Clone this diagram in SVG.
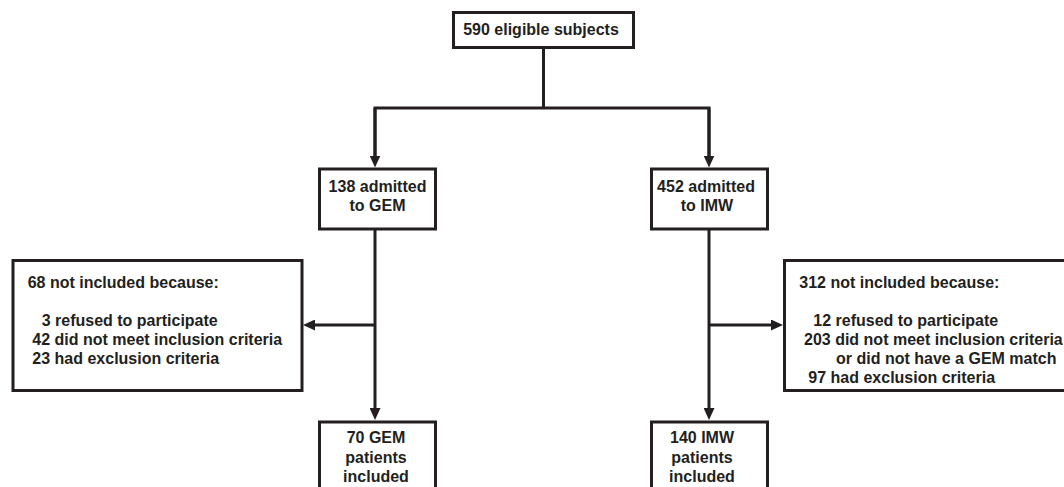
<svg xmlns="http://www.w3.org/2000/svg" width="1064" height="487" viewBox="0 0 1064 487">
<style>
.box{fill:#fff;stroke:#231f20;stroke-width:3}
.t{font-family:"Liberation Sans",Arial,sans-serif;font-weight:bold;font-size:16px;fill:#231f20}
.c{text-anchor:middle}
.ln{fill:none;stroke:#231f20;stroke-width:3;stroke-linejoin:miter;stroke-linecap:butt}
</style>
<defs>
<marker id="ah" viewBox="0 0 12 11" markerWidth="12" markerHeight="11" refX="4" refY="5.5" orient="auto" markerUnits="userSpaceOnUse">
<path d="M0,0 L12,5.5 L0,11 z" fill="#231f20"/>
</marker>
</defs>
<rect width="1064" height="487" fill="#fff"/>
<g id="connectors">
<path class="ln" d="M543.5,47.5 V108"/>
<path class="ln" d="M375,159.5 V108 H709 V159.5"/>
<path class="ln" d="M375,108 V159.5" marker-end="url(#ah)"/>
<path class="ln" d="M709,108 V159.5" marker-end="url(#ah)"/>
<path class="ln" d="M375,229 V412" marker-end="url(#ah)"/>
<path class="ln" d="M709,229 V412" marker-end="url(#ah)"/>
<path class="ln" d="M375,325 H311" marker-end="url(#ah)"/>
<path class="ln" d="M709,325 H775" marker-end="url(#ah)"/>
</g>
<g id="eligible">
<rect class="box" x="453.5" y="12.5" width="180" height="35"/>
<text class="t c" x="541" y="35">590 eligible subjects</text>
</g>
<g id="gem">
<rect class="box" x="319.5" y="169" width="116" height="60"/>
<text class="t c" x="377.5" y="192">138 admitted</text>
<text class="t c" x="377.5" y="211">to GEM</text>
</g>
<g id="imw">
<rect class="box" x="651.5" y="169" width="116" height="60"/>
<text class="t c" x="706" y="192">452 admitted</text>
<text class="t c" x="707" y="211">to IMW</text>
</g>
<g id="gem-excluded">
<rect class="box" x="13" y="260.5" width="289" height="130"/>
<text class="t" x="27.7" y="287.5">68 not included because:</text>
<text class="t" x="41.7" y="326">3 refused to participate</text>
<text class="t" x="32.3" y="345">42 did not meet inclusion criteria</text>
<text class="t" x="32.3" y="364.3">23 had exclusion criteria</text>
</g>
<g id="imw-excluded">
<rect class="box" x="784.5" y="260.5" width="300" height="130"/>
<text class="t" x="799.3" y="287.5">312 not included because:</text>
<text class="t" x="813.3" y="326">12 refused to participate</text>
<text class="t" x="804" y="345">203 did not meet inclusion criteria</text>
<text class="t" x="836" y="364">or did not have a GEM match</text>
<text class="t" x="808.3" y="383">97 had exclusion criteria</text>
</g>
<g id="gem-included">
<rect class="box" x="319.5" y="422" width="116" height="80"/>
<text class="t c" x="376" y="443">70 GEM</text>
<text class="t c" x="376" y="462.5">patients</text>
<text class="t c" x="376" y="481.5">included</text>
</g>
<g id="imw-included">
<rect class="box" x="651.5" y="422" width="116" height="80"/>
<text class="t c" x="702" y="443">140 IMW</text>
<text class="t c" x="702" y="462.5">patients</text>
<text class="t c" x="702" y="481.5">included</text>
</g>
</svg>
